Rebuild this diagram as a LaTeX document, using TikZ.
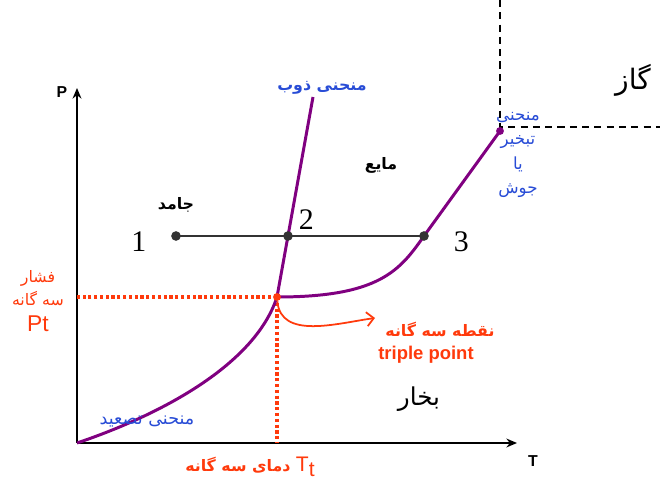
\documentclass[tikz,border=0pt]{standalone}
\usepackage{fontspec}
\setmainfont{Liberation Sans}
\newfontfamily\fa[Script=Arabic]{DejaVu Sans}
\newfontfamily\numfont{Liberation Serif}
\TeXXeTstate=1
\usetikzlibrary{arrows.meta, positioning}
\definecolor{curve}{RGB}{128, 0, 128}
\definecolor{triple}{RGB}{255, 58, 12}
\definecolor{namec}{RGB}{40, 76, 214}
\newcommand{\fat}[1]{{\fa\beginR #1\endR}}

\begin{document}
\begin{tikzpicture}[
  x=0.02cm, y=-0.02cm,
  axis/.style={-{Stealth[length=6pt, width=5pt]}, line width=1.1pt},
  phase/.style={draw=curve, line width=1.7pt},
  guide/.style={draw=triple, line width=2pt, dash pattern=on 1.8pt off 1.5pt},
  border/.style={line width=1pt, dash pattern=on 4pt off 3pt},
  isobar/.style={line width=0.8pt, draw=black!80},
  tarrow/.style={-{Straight Barb[length=4pt]}, draw=triple, line width=1pt},
  dot/.style={circle, fill=black!80, inner sep=0pt, minimum size=5.5pt},
  cdot/.style={circle, fill=curve, inner sep=0pt, minimum size=4.5pt},
  tdot/.style={circle, fill=triple, inner sep=0pt, minimum size=4.5pt},
  axlbl/.style={font=\bfseries\small},
  numlbl/.style={font=\numfont\fontsize{17}{17}\selectfont, inner sep=1pt},
  phaselbl/.style={font=\fa\bfseries\small},
  biglbl/.style={font=\fa\fontsize{14}{14}\selectfont},
  curvelbl/.style={font=\fa\fontsize{9.5}{11}\selectfont, text=namec, align=center},
  redlbl/.style={font=\fa\small, text=triple, align=center},
]
  \useasboundingbox (0,0) rectangle (660,483);

  % Axes
  \coordinate (O) at (77,443);
  \coordinate (ptop) at (77,88);
  \coordinate (tend) at (517,443);
  \draw[axis] (O) -- (ptop);
  \draw[axis] (O) -- (tend);
  \node[axlbl] (plbl) at (62,92) {P};
  \node[axlbl] (tlbl) at (533,461) {T};

  % Key points
  \coordinate (tp) at (277,297);
  \coordinate (crit) at (500,131);
  \coordinate (melt) at (313,97);
  \coordinate (a1) at (176,236);
  \coordinate (a2) at (288,236);
  \coordinate (a3) at (424,236);

  % Gas region border
  \coordinate (gtop) at (500,0);
  \coordinate (gright) at (660,127);
  \draw[border] (gtop) -- (gtop |- gright) -- (gright);

  % Triple point guides
  \draw[guide] (tp) -- (tp -| O);
  \draw[guide] (tp) -- (tp |- O);

  % Phase curves
  \draw[phase] (O) .. controls (160,415) and (255,365) .. (tp);
  \draw[phase] (tp) -- (melt);
  \draw[phase] (tp) .. controls (380,297) and (400,270) .. (a3) -- (crit);

  % Isobar 1-2-3
  \draw[isobar] (a1) -- (a3);
  \node[dot] (p1) at (a1) {};
  \node[dot] (p2) at (a2) {};
  \node[dot] (p3) at (a3) {};
  \node[cdot] (c) at (crit) {};
  \node[tdot] (t) at (tp) {};
  \node[numlbl, left=4.5mm of p1, yshift=-1.2mm] (n1) {1};
  \node[numlbl, above right=0.2mm and 1mm of p2] (n2) {2};
  \node[numlbl, right=4.5mm of p3, yshift=-1.2mm] (n3) {3};

  % Phase names
  \node[phaselbl] (solid) at (176,205) {\fat{جامد}};
  \node[phaselbl] (liquid) at (381,165) {\fat{مایع}};
  \node[biglbl] (vapour) at (419,399) {\fat{بخار}};
  \node[biglbl, font=\fa\fontsize{16}{16}\selectfont] (gas) at (633,80) {\fat{گاز}};

  % Curve names
  \node[curvelbl, font=\fa\bfseries\small] (fusion) at (322,88) {\fat{منحنی ذوب}};
  \node[curvelbl] (boil) at (518,155)
    {\fat{منحنی}\\[3pt] \fat{تبخیر}\\[3pt] \fat{یا}\\[3pt] \fat{جوش}};
  \node[curvelbl, font=\fa\fontsize{10}{12}\selectfont] (subl) at (147,421) {\fat{منحنی تصعید}};

  % Triple point labels
  \node[redlbl] (ptlbl) at (38,301)
    {\fat{فشار}\\[2pt] \fat{سه گانه}\\[4pt] {\fontspec{Liberation Sans}\fontsize{13}{13}\selectfont Pt}};
  \node[redlbl, font=\fa\bfseries\small] (tpname) at (440,329) {\fat{نقطه سه گانه}};
  \node[redlbl, font=\bfseries\fontsize{10.5}{12}\selectfont] (tpeng) at (426,355) {triple point};
  \node[redlbl, font=\fa\bfseries\small] (ttlbl) at (250,467)
    {\fat{دمای سه گانه} {\fontspec{Liberation Sans}\mdseries\large T\raisebox{-0.4ex}{t}}};
  \coordinate (tptip) at (375,318);
  \draw[tarrow] (t) to[out=-85, in=188] (tptip);
\end{tikzpicture}
\end{document}
